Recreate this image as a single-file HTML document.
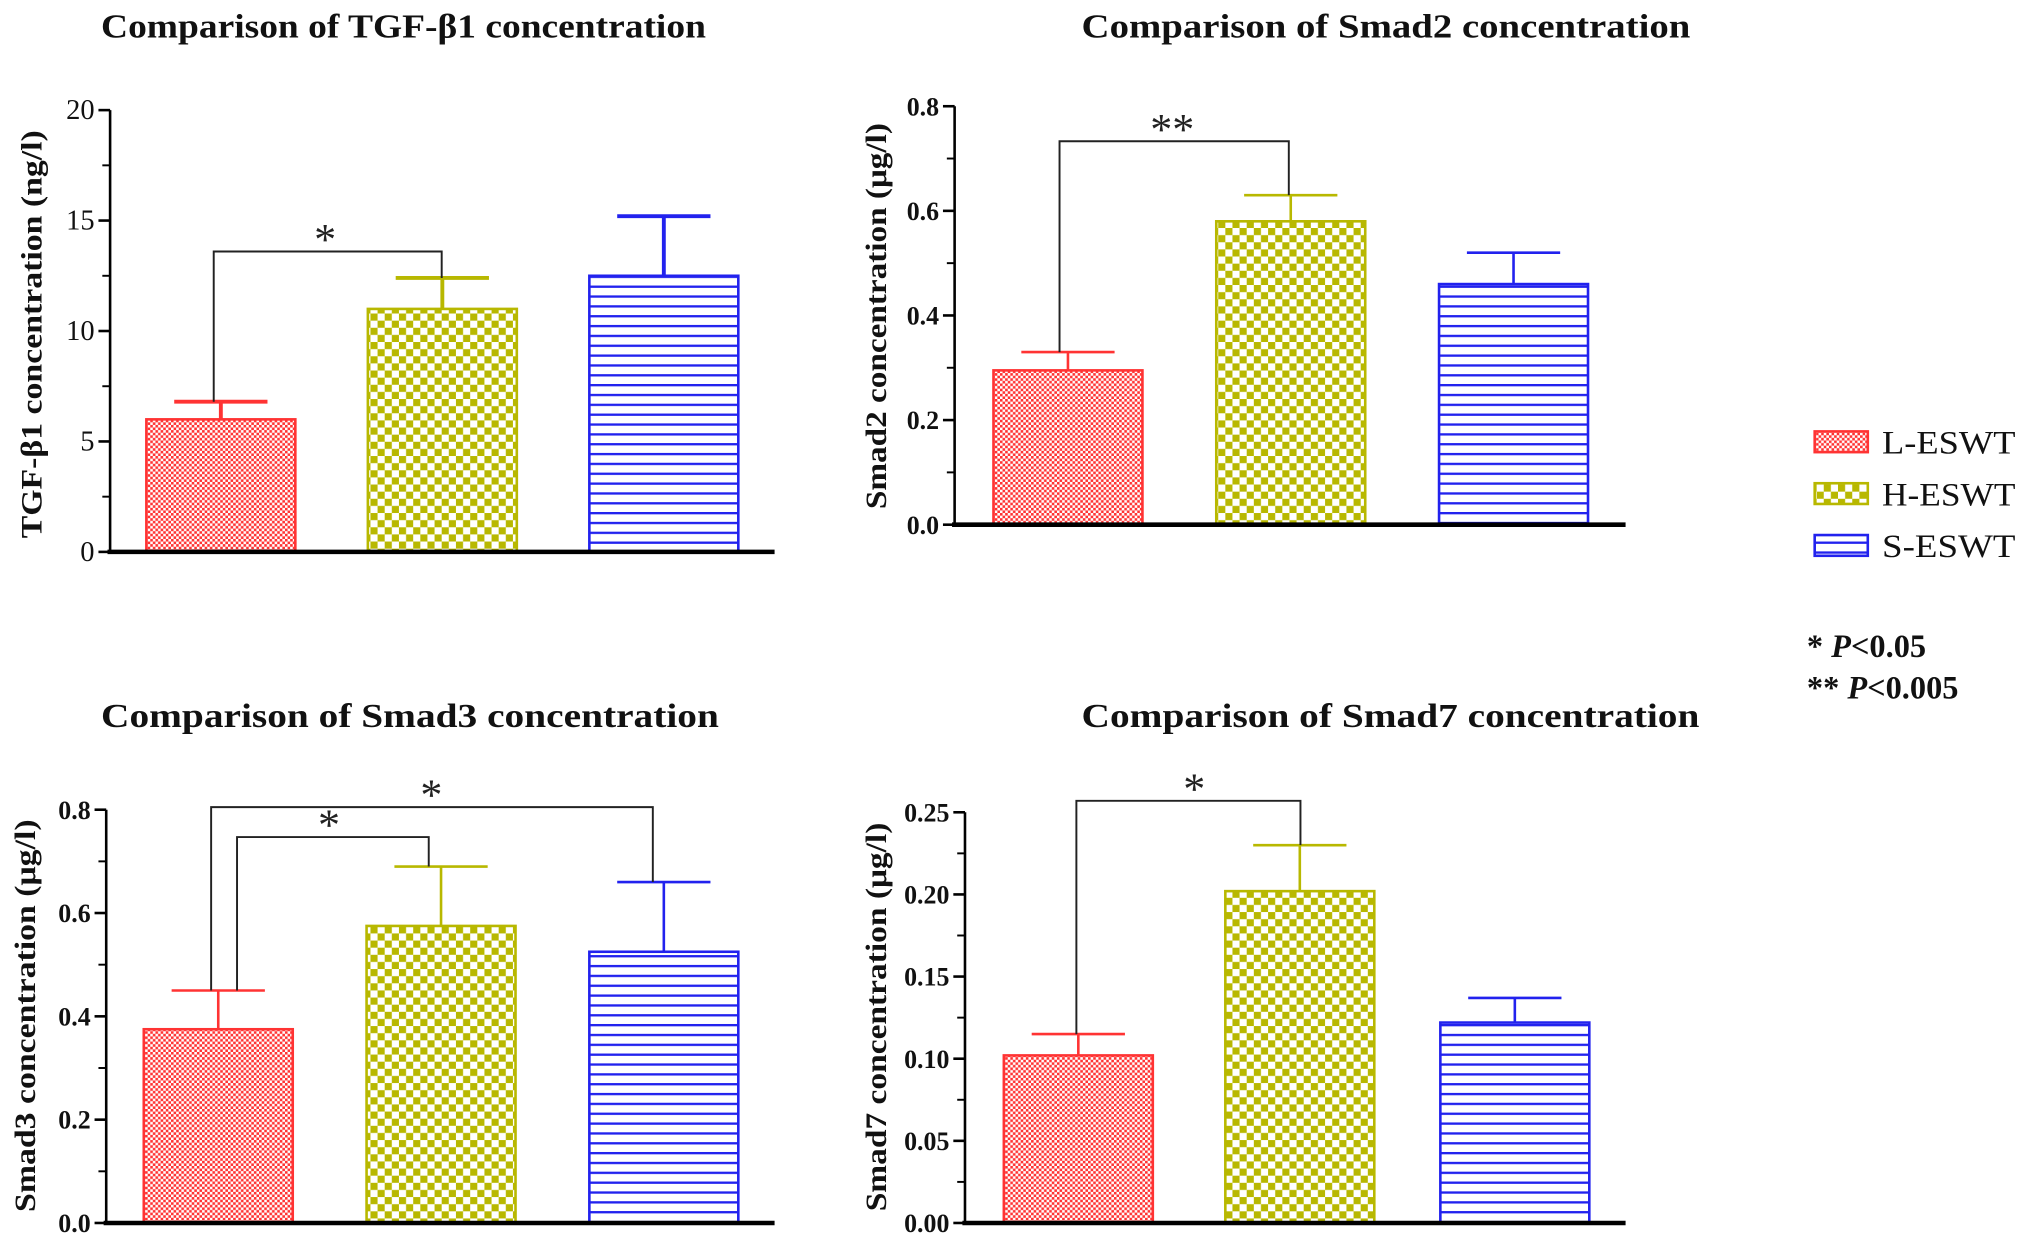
<!DOCTYPE html>
<html><head><meta charset="utf-8"><style>
html,body{margin:0;padding:0;background:#fff;}
svg{display:block;}
text{font-family:"Liberation Serif",serif;}
</style></head><body>
<svg id="fig" width="2031" height="1245" viewBox="0 0 1568 961" preserveAspectRatio="none" xmlns="http://www.w3.org/2000/svg">
<defs>
<pattern id="pRed" width="4" height="4" patternUnits="userSpaceOnUse"><rect width="4" height="4" fill="#fff"/><rect width="2" height="2" fill="#ff3333"/><rect x="2" y="2" width="2" height="2" fill="#ff3333"/></pattern>
<pattern id="pYel" width="11" height="11" patternUnits="userSpaceOnUse"><rect width="11" height="11" fill="#fff"/><rect width="5.5" height="5.5" fill="#b8b800"/><rect x="5.5" y="5.5" width="5.5" height="5.5" fill="#b8b800"/></pattern>
<pattern id="pBlu" width="10" height="7.6" patternUnits="userSpaceOnUse"><rect width="10" height="7.6" fill="#fff"/><rect y="0" width="10" height="1.8" fill="#2222ee"/></pattern>
</defs>
<g id="root"></g>
</svg>
<script>
const groups = ["L-ESWT","H-ESWT","S-ESWT"];
const tgfValues = [6.0, 11.0, 12.5];
const tgfErrors = [0.8, 1.4, 2.7];
const smad2Values = [0.295, 0.58, 0.46];
const smad2Errors = [0.035, 0.05, 0.06];
const smad3Values = [0.375, 0.575, 0.525];
const smad3Errors = [0.075, 0.115, 0.135];
const smad7Values = [0.102, 0.202, 0.122];
const smad7Errors = [0.013, 0.028, 0.015];
const tgfTicks = ["0","5","10","15","20"];
const smad2Ticks = ["0.0","0.2","0.4","0.6","0.8"];
const smad3Ticks = ["0.0","0.2","0.4","0.6","0.8"];
const smad7Ticks = ["0.00","0.05","0.10","0.15","0.20","0.25"];

const NS="http://www.w3.org/2000/svg";
const root=document.getElementById('root');
function mk(tag,attrs,parent){const e=document.createElementNS(NS,tag);for(const k in attrs)e.setAttribute(k,attrs[k]);(parent||root).appendChild(e);return e;}
const fills=["url(#pRed)","url(#pYel)","url(#pBlu)"];
const strokes=["#ff3333","#b8b800","#2222ee"];

function panel(cfg){
  const g=mk('g',{});
  
  
  const y=v=>cfg.y0-(v/cfg.max)*(cfg.y0-cfg.y1);
  const bw=115;
  const t=mk('text',{x:cfg.tx,y:cfg.ty,'font-size':26,'font-weight':'bold',fill:'#111',textLength:cfg.tlen,lengthAdjust:'spacingAndGlyphs'},g);
  t.textContent=cfg.title;
  
  
  cfg.values.forEach((v,i)=>{
    const x=cfg.bars[i];
    const r=mk('rect',{x:x,y:y(v),width:bw,height:cfg.y0-y(v),fill:fills[i],stroke:strokes[i],'stroke-width':2},g);
    
    
    const cx=x+bw/2, top=y(v+cfg.errors[i]);
    const eb=mk('path',{d:`M${cx} ${y(v)}V${top}M${cx-36} ${top}H${cx+36}`,stroke:strokes[i],'stroke-width':cfg.ew,fill:'none'},g);
    
    
  });
  const ax=mk('path',{d:`M${cfg.ax} ${cfg.y1}V${cfg.y0}`,stroke:'#000','stroke-width':2,fill:'none'},g);
  
  
  const xa=mk('path',{d:`M${cfg.ax-2} ${cfg.y0}H${cfg.xend}`,stroke:'#000','stroke-width':3.5},g);
  
  
  const n=cfg.ticks.length-1;
  cfg.ticks.forEach((lab,i)=>{
    const v=cfg.max*i/n, yy=y(v);
    mk('line',{x1:cfg.ax-9,x2:cfg.ax,y1:yy,y2:yy,stroke:'#000','stroke-width':2},g);
    if(i<n){const ym=y(v+cfg.max/n/2);mk('line',{x1:cfg.ax-6,x2:cfg.ax,y1:ym,y2:ym,stroke:'#000','stroke-width':1.5},g);}
    const tl=mk('text',{x:cfg.ax-12,y:yy+7,'text-anchor':'end','font-size':cfg.tfs,'font-weight':cfg.tfw,'font-family':cfg.tff,fill:'#111'},g);
    tl.textContent=lab;
    
    
  });
  const yt=mk('text',{x:0,y:0,transform:`translate(${cfg.ytx},${cfg.ymid}) rotate(-90)`,'text-anchor':'middle','font-size':23,'font-weight':'bold',fill:'#111',textLength:cfg.ylen,lengthAdjust:'spacingAndGlyphs'},g);
  yt.textContent=cfg.ytitle;
  
  
  cfg.brackets.forEach(b=>{
    const bi=b.a, bj=b.b;
    const yl=y(b.level);
    const la=y(cfg.values[bi]+cfg.errors[bi]), lb=y(cfg.values[bj]+cfg.errors[bj]);
    const p=mk('path',{d:`M${b.xa} ${la}V${yl}H${b.xb}V${lb}`,stroke:'#222','stroke-width':1.5,fill:'none'},g);
    
    
    const s=mk('text',{x:b.sx,y:yl+2,'text-anchor':'middle','font-size':34,'font-family':'Liberation Sans, sans-serif',fill:'#222'},g);
    s.textContent=b.label;
    
    
  });
}
const sm='Liberation Sans Narrow, Liberation Sans, sans-serif';
panel({name:'tgf-beta1-panel',title:'Comparison of TGF-β1 concentration',tx:78,ty:29,tlen:467,values:tgfValues,errors:tgfErrors,ticks:tgfTicks,max:20,ax:85,y0:426,y1:85,xend:598,bars:[113,284,455],ew:3,tfs:22,tfw:'normal',tff:'Liberation Sans, sans-serif',ytitle:'TGF-β1 concentration (ng/l)',ytx:32,ymid:258,ylen:315,brackets:[{a:0,b:1,xa:165,xb:341,sx:251,level:13.6,label:'*'}]});
panel({name:'smad2-panel',title:'Comparison  of Smad2 concentration',tx:835,ty:29,tlen:470,values:smad2Values,errors:smad2Errors,ticks:smad2Ticks,max:0.8,ax:737,y0:405,y1:82,xend:1255,bars:[767,939,1111],ew:2,tfs:20,tfw:'bold',tff:sm,ytitle:'Smad2 concentration (μg/l)',ytx:684,ymid:244,ylen:298,brackets:[{a:0,b:1,xa:818,xb:995,sx:905,level:0.733,label:'**'}]});
panel({name:'smad3-panel',title:'Comparison  of  Smad3 concentration',tx:78,ty:561,tlen:477,values:smad3Values,errors:smad3Errors,ticks:smad3Ticks,max:0.8,ax:82,y0:944,y1:625,xend:598,bars:[111,283,455],ew:2,tfs:20,tfw:'bold',tff:sm,ytitle:'Smad3 concentration (μg/l)',ytx:27,ymid:784,ylen:303,brackets:[{a:0,b:2,xa:163,xb:504,sx:333,level:0.805,label:'*'},{a:0,b:1,xa:183,xb:331,sx:254,level:0.747,label:'*'}]});
panel({name:'smad7-panel',title:'Comparison  of  Smad7 concentration',tx:835,ty:561,tlen:477,values:smad7Values,errors:smad7Errors,ticks:smad7Ticks,max:0.25,ax:745,y0:944,y1:627,xend:1255,bars:[775,946,1112],ew:2,tfs:20,tfw:'bold',tff:sm,ytitle:'Smad7 concentration (μg/l)',ytx:684,ymid:785,ylen:300,brackets:[{a:0,b:1,xa:831,xb:1004,sx:922,level:0.257,label:'*'}]});
const lg=mk('g',{});


const ly=[333,373,413];
groups.forEach((gname,i)=>{
  const r=mk('rect',{x:1401,y:ly[i],width:41,height:16,fill:fills[i],stroke:strokes[i],'stroke-width':2},lg);
  
  
  const t=mk('text',{x:1453,y:ly[i]+17,'font-size':25,fill:'#111',textLength:103,lengthAdjust:'spacingAndGlyphs'},lg);
  t.textContent=gname;
  
  
});
const p1=mk('text',{x:1395,y:507,'font-size':25,'font-weight':'bold',fill:'#111'});
p1.innerHTML='*  <tspan font-style="italic">P</tspan>&lt;0.05';


const p2=mk('text',{x:1395,y:539,'font-size':25,'font-weight':'bold',fill:'#111'});
p2.innerHTML='** <tspan font-style="italic">P</tspan>&lt;0.005';


</script>
</body></html>
